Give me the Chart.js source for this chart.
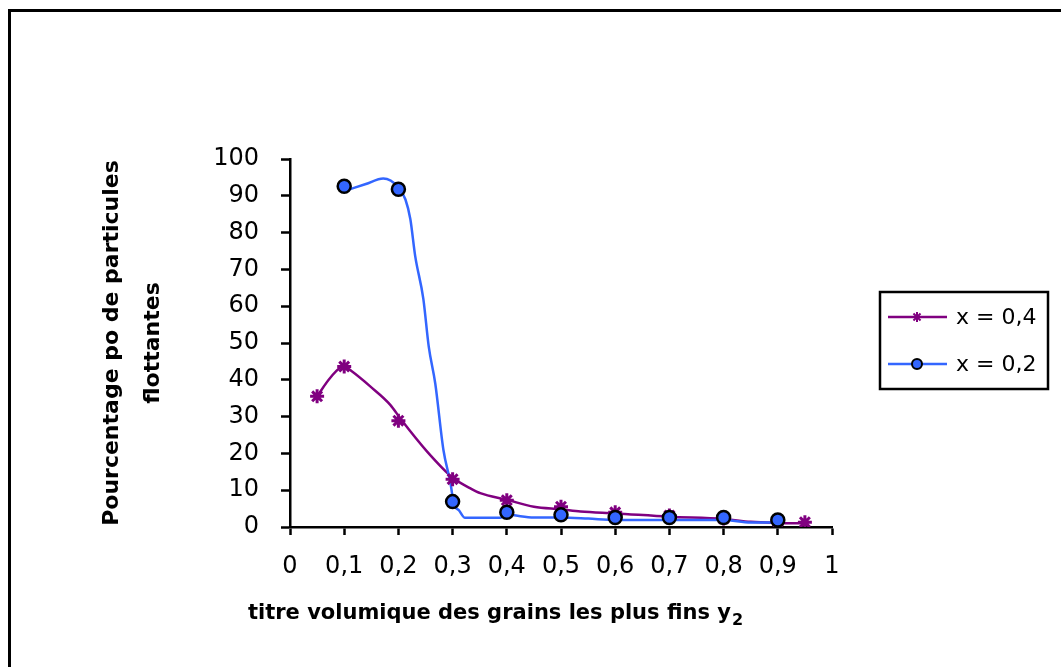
<!DOCTYPE html>
<html>
<head>
<meta charset="utf-8">
<script src="https://cdn.jsdelivr.net/npm/chart.js@4.4.1/dist/chart.umd.min.js"></script>
<style>
  html, body { margin: 0; padding: 0; background: #fff; }
  #frame { position: absolute; left: 8px; top: 9px; width: 1100px; height: 700px; border: 3px solid #000; }
  #wrap { position: absolute; left: 0; top: 0; width: 1061px; height: 667px; }
</style>
</head>
<body>
<div id="frame"></div>
<div id="wrap"><canvas id="chart" width="1061" height="667"></canvas></div>
<script>
// measured points (markers)
const starX = [0.05, 0.1, 0.2, 0.3, 0.4, 0.5, 0.6, 0.7, 0.8, 0.9, 0.95];
const starY = [35.5, 43.6, 28.9, 13.0, 7.3, 5.5, 4.0, 3.1, 2.3, 1.5, 1.3];
const dotX = [0.1, 0.2, 0.3, 0.4, 0.5, 0.6, 0.7, 0.8, 0.9];
const dotY = [92.6, 91.8, 6.9, 4.0, 3.3, 2.6, 2.6, 2.6, 1.9];

// curves drawn through / near the points
const purpleCurveX = [0.05, 0.074, 0.099, 0.114, 0.148, 0.185, 0.205, 0.253, 0.301, 0.333, 0.351, 0.4, 0.45, 0.5, 0.536, 0.6, 0.7, 0.8, 0.85, 0.9, 0.95];
const purpleCurveY = [35.5, 40.5, 43.7, 42.3, 38.2, 33.2, 29.2, 20.5, 13.3, 10.5, 9.2, 7.4, 5.5, 4.8, 4.2, 3.7, 2.8, 2.2, 1.4, 1.1, 1.0];
const blueCurveX = [0.105, 0.14, 0.172, 0.2, 0.213, 0.222, 0.231, 0.246, 0.256, 0.268, 0.283, 0.296, 0.302, 0.312, 0.323, 0.388, 0.4, 0.45, 0.5, 0.55, 0.6, 0.7, 0.8, 0.85, 0.9];
const blueCurveY = [91.5, 93.2, 94.7, 92.3, 89.0, 83.7, 73.6, 62.0, 49.0, 39.0, 21.0, 12.0, 6.5, 4.5, 2.5, 2.5, 3.3, 2.6, 2.6, 2.3, 1.9, 1.9, 1.9, 1.2, 1.2];

const seriesNames = ['x = 0,4', 'x = 0,2'];
const yTitle = ['Pourcentage po de particules', 'flottantes'];
const xTitleMain = 'titre volumique des grains les plus fins y';
const xTitleSub = '2';

const PURPLE = '#800080';
const BLUE = '#3366FF';
const FONT = '"DejaVu Sans", sans-serif';

function pts(xs, ys) {
    return xs.map((x, i) => ({ x: x, y: ys[i] }));
}

function fmtX(v) {
    const r = Math.round(v * 10) / 10;
    if (Number.isInteger(r)) return String(r);
    return r.toFixed(1).replace('.', ',');
}

const extras = {
    id: 'extras',
    afterDraw(chart) {
        const ctx = chart.ctx;
        ctx.save();
        ctx.fillStyle = '#000';
        ctx.textBaseline = 'alphabetic';

        // x axis title with subscript
        ctx.font = 'bold 21px ' + FONT;
        const mainW = ctx.measureText(xTitleMain).width;
        ctx.font = 'bold 16px ' + FONT;
        const subW = ctx.measureText(xTitleSub).width;
        let tx = 495 - (mainW + subW) / 2;
        ctx.font = 'bold 21px ' + FONT;
        ctx.fillText(xTitleMain, tx, 619);
        ctx.font = 'bold 16px ' + FONT;
        ctx.fillText(xTitleSub, tx + mainW + 1, 625);

        // legend
        ctx.lineWidth = 2.5;
        ctx.strokeStyle = '#000';
        ctx.strokeRect(880, 292, 168, 97);
        const rows = [
            { y: 317, color: PURPLE, style: 'star', fill: PURPLE, border: PURPLE, r: 5 },
            { y: 364, color: BLUE, style: 'circle', fill: BLUE, border: '#000', r: 5 }
        ];
        rows.forEach((row, i) => {
            ctx.beginPath();
            ctx.lineWidth = 2.5;
            ctx.strokeStyle = row.color;
            ctx.moveTo(888, row.y);
            ctx.lineTo(947, row.y);
            ctx.stroke();
            ctx.fillStyle = row.fill;
            ctx.strokeStyle = row.border;
            ctx.lineWidth = 2;
            Chart.helpers.drawPoint(ctx, { pointStyle: row.style, radius: row.r, borderWidth: 2, rotation: 0 }, 917, row.y);
            ctx.fillStyle = '#000';
            ctx.font = '22px ' + FONT;
            ctx.textBaseline = 'middle';
            ctx.fillText(seriesNames[i], 956, row.y + 1);
        });
        ctx.restore();
    }
};

const ctx = document.getElementById('chart').getContext('2d');
new Chart(ctx, {
    type: 'scatter',
    data: {
        datasets: [
            {
                label: seriesNames[1] + ' points',
                data: pts(dotX, dotY),
                showLine: false,
                pointStyle: 'circle',
                pointRadius: 6.5,
                pointBackgroundColor: BLUE,
                pointBorderColor: '#000',
                pointBorderWidth: 2.5,
                order: 0
            },
            {
                label: seriesNames[0] + ' points',
                data: pts(starX, starY),
                showLine: false,
                pointStyle: 'star',
                pointRadius: 7,
                pointBackgroundColor: PURPLE,
                pointBorderColor: PURPLE,
                pointBorderWidth: 3,
                order: 1
            },
            {
                label: seriesNames[1],
                data: pts(blueCurveX, blueCurveY),
                showLine: true,
                borderColor: BLUE,
                borderWidth: 2.5,
                pointRadius: 0,
                cubicInterpolationMode: 'monotone',
                order: 2
            },
            {
                label: seriesNames[0],
                data: pts(purpleCurveX, purpleCurveY),
                showLine: true,
                borderColor: PURPLE,
                borderWidth: 2.5,
                pointRadius: 0,
                cubicInterpolationMode: 'monotone',
                order: 3
            }
        ]
    },
    options: {
        responsive: false,
        animation: false,
        layout: { padding: { top: 159, right: 229, left: 0, bottom: 0 } },
        plugins: {
            legend: { display: false },
            tooltip: { enabled: false }
        },
        scales: {
            x: {
                type: 'linear',
                min: 0,
                max: 1,
                afterFit: function(scale) { scale.height = 140; },
                grid: { drawOnChartArea: false, drawTicks: true, tickLength: 8, tickColor: '#000', tickWidth: 2.5 },
                border: { color: '#000', width: 2.5 },
                ticks: {
                    stepSize: 0.1,
                    color: '#000',
                    padding: 17,
                    maxRotation: 0,
                    autoSkip: false,
                    font: { family: FONT, size: 24 },
                    callback: fmtX
                }
            },
            y: {
                min: 0,
                max: 100,
                afterFit: function(scale) { scale.width = 290; },
                grid: { drawOnChartArea: false, drawTicks: true, tickLength: 9, tickColor: '#000', tickWidth: 2.5 },
                border: { color: '#000', width: 2.5 },
                ticks: {
                    stepSize: 10,
                    color: '#000',
                    padding: 22,
                    font: { family: FONT, size: 24 }
                },
                title: {
                    display: true,
                    text: yTitle,
                    color: '#000',
                    font: { family: FONT, size: 22, weight: 'bold', lineHeight: 1.9 },
                    padding: { top: 91, bottom: 0 }
                }
            }
        }
    },
    plugins: [extras]
});
</script>
</body>
</html>
